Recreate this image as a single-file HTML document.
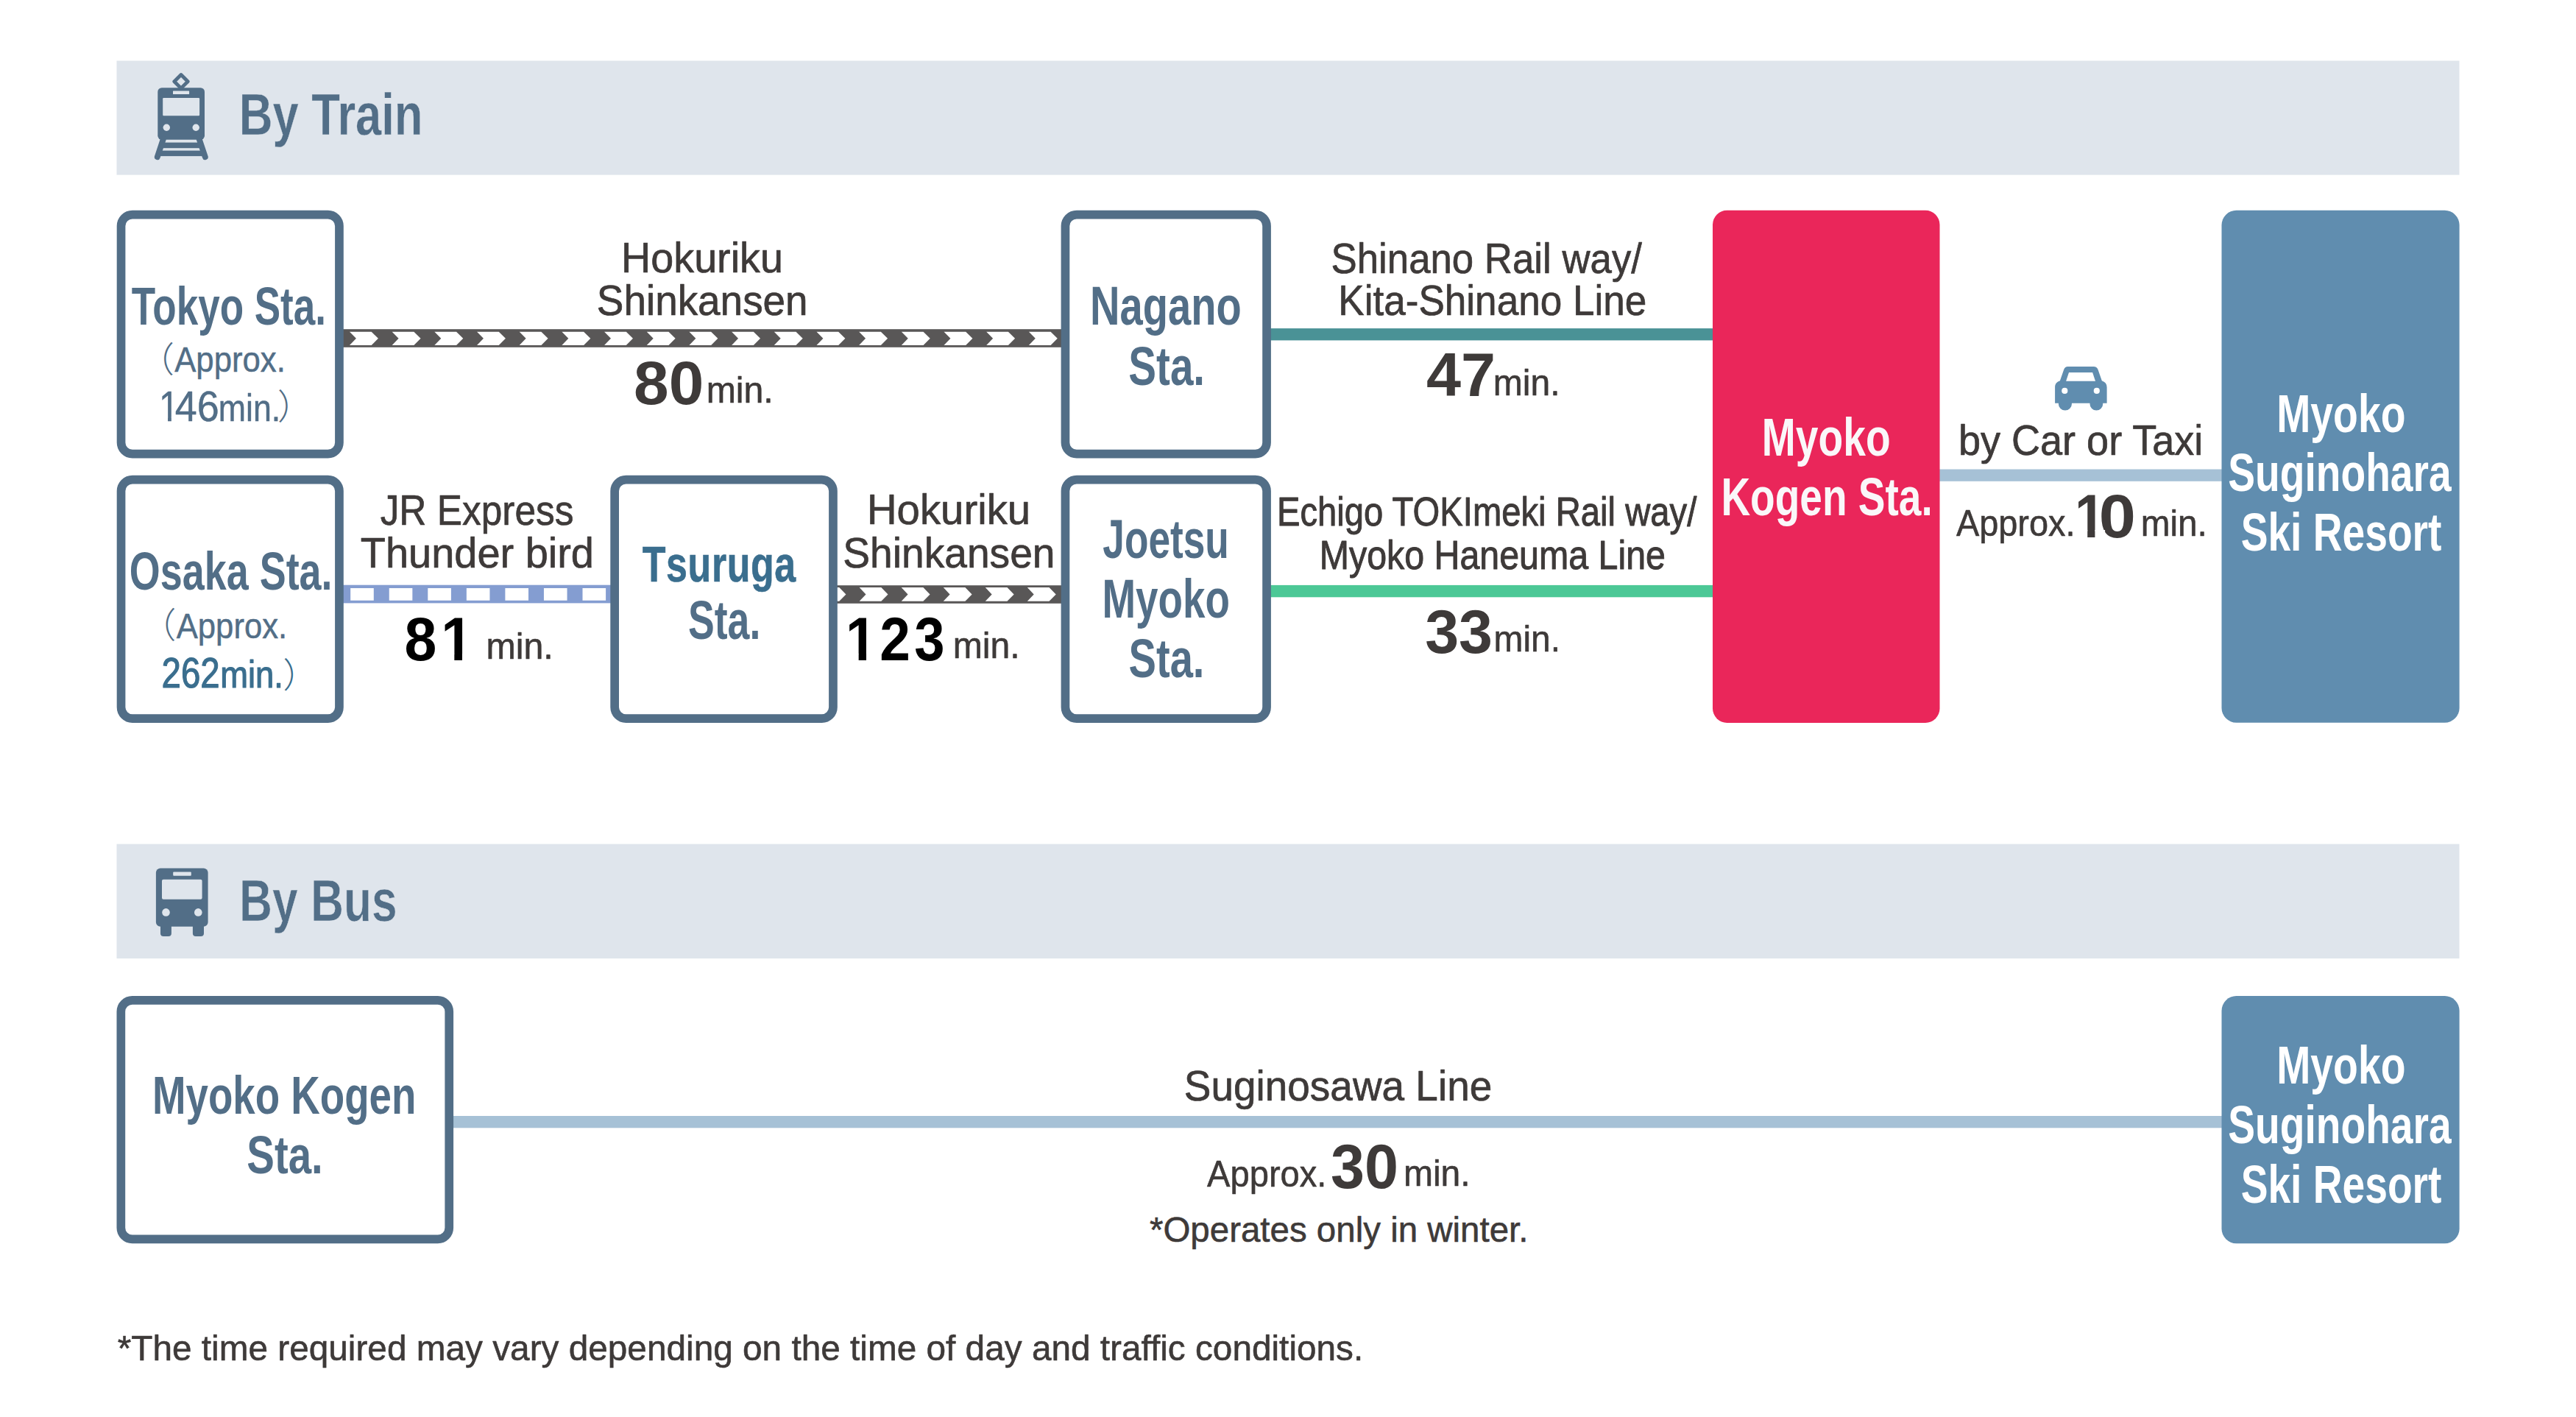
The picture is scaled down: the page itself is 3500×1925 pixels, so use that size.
<!DOCTYPE html>
<html lang="en"><head><meta charset="utf-8"><title>Access</title>
<style>
html,body{margin:0;padding:0;background:#fff}
svg{display:block}
text{font-family:"Liberation Sans","Noto Sans CJK JP",sans-serif;white-space:pre}
</style></head><body>
<svg width="3500" height="1925" viewBox="0 0 3500 1925">
<rect width="3500" height="1925" fill="#fff"/>
<rect x="158.5" y="82.5" width="3183" height="155.1" fill="#DFE5EC"/>
<rect x="158.5" y="1146.6" width="3183" height="155.5" fill="#DFE5EC"/>
<rect x="460" y="447.2" width="987" height="24.6" fill="#595757"/>
<path d="M475,450.7 h29.7 l9.2,9.1 l-9.2,9.1 h-29.7 l8.9,-9.1 zM532.68,450.7 h29.7 l9.2,9.1 l-9.2,9.1 h-29.7 l8.9,-9.1 zM590.36,450.7 h29.7 l9.2,9.1 l-9.2,9.1 h-29.7 l8.9,-9.1 zM648.04,450.7 h29.7 l9.2,9.1 l-9.2,9.1 h-29.7 l8.9,-9.1 zM705.72,450.7 h29.7 l9.2,9.1 l-9.2,9.1 h-29.7 l8.9,-9.1 zM763.4,450.7 h29.7 l9.2,9.1 l-9.2,9.1 h-29.7 l8.9,-9.1 zM821.08,450.7 h29.7 l9.2,9.1 l-9.2,9.1 h-29.7 l8.9,-9.1 zM878.76,450.7 h29.7 l9.2,9.1 l-9.2,9.1 h-29.7 l8.9,-9.1 zM936.44,450.7 h29.7 l9.2,9.1 l-9.2,9.1 h-29.7 l8.9,-9.1 zM994.12,450.7 h29.7 l9.2,9.1 l-9.2,9.1 h-29.7 l8.9,-9.1 zM1051.8,450.7 h29.7 l9.2,9.1 l-9.2,9.1 h-29.7 l8.9,-9.1 zM1109.48,450.7 h29.7 l9.2,9.1 l-9.2,9.1 h-29.7 l8.9,-9.1 zM1167.16,450.7 h29.7 l9.2,9.1 l-9.2,9.1 h-29.7 l8.9,-9.1 zM1224.84,450.7 h29.7 l9.2,9.1 l-9.2,9.1 h-29.7 l8.9,-9.1 zM1282.52,450.7 h29.7 l9.2,9.1 l-9.2,9.1 h-29.7 l8.9,-9.1 zM1340.2,450.7 h29.7 l9.2,9.1 l-9.2,9.1 h-29.7 l8.9,-9.1 zM1397.88,450.7 h29.7 l9.2,9.1 l-9.2,9.1 h-29.7 l8.9,-9.1 z" fill="#fff"/>
<rect x="1130" y="795.2" width="317" height="24.6" fill="#595757"/>
<path d="M1110.55,798.1 h29.7 l9.2,9.3 l-9.2,9.3 h-29.7 l8.9,-9.3 zM1167.6,798.1 h29.7 l9.2,9.3 l-9.2,9.3 h-29.7 l8.9,-9.3 zM1224.65,798.1 h29.7 l9.2,9.3 l-9.2,9.3 h-29.7 l8.9,-9.3 zM1281.7,798.1 h29.7 l9.2,9.3 l-9.2,9.3 h-29.7 l8.9,-9.3 zM1338.75,798.1 h29.7 l9.2,9.3 l-9.2,9.3 h-29.7 l8.9,-9.3 zM1395.8,798.1 h29.7 l9.2,9.3 l-9.2,9.3 h-29.7 l8.9,-9.3 z" fill="#fff"/>
<rect x="1720" y="446.1" width="615" height="16.3" fill="#4A9296"/>
<rect x="1720" y="794.9" width="615" height="16.4" fill="#4CC896"/>
<rect x="460" y="794.7" width="375" height="24.7" fill="#849DD1"/>
<path d="M476.2,798.9h31.6v16.8h-31.6zM528.75,798.9h31.6v16.8h-31.6zM581.3,798.9h31.6v16.8h-31.6zM633.85,798.9h31.6v16.8h-31.6zM686.4,798.9h31.6v16.8h-31.6zM738.95,798.9h31.6v16.8h-31.6zM791.5,798.9h31.6v16.8h-31.6z" fill="#fff"/>
<rect x="2630" y="637.5" width="395" height="16.3" fill="#A6C1D6"/>
<rect x="610" y="1516" width="2415" height="16.3" fill="#A6C1D6"/>
<rect x="164.55" y="291.65" width="296.4" height="324.9" rx="15.4" fill="#fff" stroke="#526E87" stroke-width="11.7"/>
<rect x="164.55" y="651.65" width="296.4" height="324.4" rx="15.4" fill="#fff" stroke="#526E87" stroke-width="11.7"/>
<rect x="835.15" y="651.65" width="296.8" height="324.4" rx="15.4" fill="#fff" stroke="#526E87" stroke-width="11.7"/>
<rect x="1447.45" y="291.65" width="273.6" height="324.9" rx="15.4" fill="#fff" stroke="#526E87" stroke-width="11.7"/>
<rect x="1447.45" y="651.65" width="273.6" height="324.4" rx="15.4" fill="#fff" stroke="#526E87" stroke-width="11.7"/>
<rect x="2327" y="285.8" width="308.5" height="696.1" rx="19.5" fill="#EA265A"/>
<rect x="3018.5" y="285.8" width="323.1" height="695.9" rx="20" fill="#608DAF"/>
<rect x="164.35" y="1358.95" width="445.9" height="324.4" rx="15.4" fill="#fff" stroke="#526E87" stroke-width="11.7"/>
<rect x="3018.5" y="1353.1" width="323.1" height="336.1" rx="20" fill="#608DAF"/>
<g fill="#526E87">
<rect x="214.3" y="119.2" width="63.7" height="70.6" rx="5.5"/>
<path d="M246,101.5 l9.2,9.2 l-9.2,9.2 l-9.2,-9.2z" fill="none" stroke="#526E87" stroke-width="4.8" stroke-linejoin="round"/>
<path d="M221.9,188.8 L213.8,213.3 M270.6,188.8 L278.8,213.3" stroke="#526E87" stroke-width="7.9" stroke-linecap="round"/>
<rect x="219" y="193.6" width="54" height="7.6"/>
<rect x="215" y="204.6" width="62" height="7.5"/>
</g>
<g fill="#DFE5EC">
<rect x="235" y="123.6" width="22.1" height="4.3" rx="0.5"/>
<rect x="221.2" y="133" width="49.9" height="24.2" rx="1.2"/>
<circle cx="226.3" cy="173.3" r="4.7"/><circle cx="266.2" cy="173.3" r="4.7"/>
</g>
<g fill="#526E87">
<rect x="211.9" y="1179.4" width="70.7" height="79.4" rx="6"/>
<path d="M218,1255 h14.9 v13.1 a3.8,3.8 0 0 1 -3.8,3.8 h-7.3 a3.8,3.8 0 0 1 -3.8,-3.8z M261.9,1255 h15.1 v13.1 a3.8,3.8 0 0 1 -3.8,3.8 h-7.5 a3.8,3.8 0 0 1 -3.8,-3.8z"/>
</g>
<g fill="#DFE5EC">
<rect x="235.2" y="1184.5" width="24.6" height="5.3" rx="1"/>
<rect x="220" y="1194.8" width="54.6" height="26.9" rx="2"/>
<circle cx="225.5" cy="1239.4" r="5.3"/><circle cx="269.3" cy="1239.4" r="5.3"/>
</g>
<path fill="#608DAF" d="M2809.5,497.9 H2844.5 Q2849,497.9 2850.5,502 L2855.8,517.2 Q2862.6,519.5 2862.6,526 V547.7 H2857.2 V549 A8.85,8.6 0 0 1 2839.5,549 V547.7 H2814.9 V549 A9,8.6 0 0 1 2796.9,549 V547.7 H2792.1 V526 Q2792.1,519.5 2798.9,517.2 L2804.2,502 Q2805.7,497.9 2809.5,497.9 Z"/>
<path fill="#fff" d="M2811,506 H2843.1 L2847,517.7 H2807.1Z"/>
<circle cx="2805.3" cy="530.9" r="4.1" fill="#fff"/><circle cx="2848.8" cy="530.9" r="4.1" fill="#fff"/>
<text x="324.73" y="183.4" font-size="79.5" font-weight="bold" fill="#526E87" stroke="#DFE5EC" stroke-width="0.4" textLength="249.83" lengthAdjust="spacingAndGlyphs">By Train</text>
<text x="325.1" y="1251.05" font-size="79" font-weight="bold" fill="#526E87" stroke="#DFE5EC" stroke-width="0.6" textLength="214.42" lengthAdjust="spacingAndGlyphs">By Bus</text>
<text x="178.84" y="440.8" font-size="73" font-weight="bold" fill="#526E87" textLength="264.15" lengthAdjust="spacingAndGlyphs">Tokyo Sta.</text>
<text x="175.84" y="801.3" font-size="73" font-weight="bold" fill="#526E87" textLength="275.76" lengthAdjust="spacingAndGlyphs">Osaka Sta.</text>
<text x="1481.01" y="441.2" font-size="73.2" font-weight="bold" fill="#526E87" textLength="205.87" lengthAdjust="spacingAndGlyphs">Nagano</text>
<text x="1533.3" y="522.7" font-size="73.2" font-weight="bold" fill="#526E87" textLength="103.8" lengthAdjust="spacingAndGlyphs">Sta.</text>
<text transform="translate(872.75,789.7) scale(0.76,1)" font-size="68.4" font-weight="bold" fill="#3A6E8E" stroke="#3A6E8E" stroke-width="0.6" letter-spacing="0.76" style="font-kerning:none">Tsuruga</text>
<text x="934.99" y="868" font-size="73.2" font-weight="bold" fill="#526E87" textLength="98.31" lengthAdjust="spacingAndGlyphs">Sta.</text>
<text x="1498.3" y="757.6" font-size="73.2" font-weight="bold" fill="#526E87" textLength="171.6" lengthAdjust="spacingAndGlyphs">Joetsu</text>
<text x="1497.5" y="838.8" font-size="73.2" font-weight="bold" fill="#526E87" textLength="173.46" lengthAdjust="spacingAndGlyphs">Myoko</text>
<text x="1533.52" y="919.6" font-size="73.2" font-weight="bold" fill="#526E87" textLength="102.96" lengthAdjust="spacingAndGlyphs">Sta.</text>
<text x="2393.87" y="619.2" font-size="73" font-weight="bold" fill="#FAF7F9" textLength="174.81" lengthAdjust="spacingAndGlyphs">Myoko</text>
<text x="2338.39" y="699.5" font-size="73" font-weight="bold" fill="#FAF7F9" textLength="287.34" lengthAdjust="spacingAndGlyphs">Kogen Sta.</text>
<text x="3093.27" y="586.5" font-size="73" font-weight="bold" fill="#FFFFFF" textLength="175.22" lengthAdjust="spacingAndGlyphs">Myoko</text>
<text x="3027.35" y="666.9" font-size="73" font-weight="bold" fill="#FFFFFF" textLength="303.28" lengthAdjust="spacingAndGlyphs">Suginohara</text>
<text x="3044.65" y="748.1" font-size="73" font-weight="bold" fill="#FFFFFF" textLength="272.82" lengthAdjust="spacingAndGlyphs">Ski Resort</text>
<text x="3093.27" y="1472.1" font-size="73" font-weight="bold" fill="#FFFFFF" textLength="175.22" lengthAdjust="spacingAndGlyphs">Myoko</text>
<text x="3027.35" y="1552.8" font-size="73" font-weight="bold" fill="#FFFFFF" textLength="303.28" lengthAdjust="spacingAndGlyphs">Suginohara</text>
<text x="3044.65" y="1633.8" font-size="73" font-weight="bold" fill="#FFFFFF" textLength="272.82" lengthAdjust="spacingAndGlyphs">Ski Resort</text>
<text x="207.01" y="1512.6" font-size="73" font-weight="bold" fill="#526E87" textLength="358.32" lengthAdjust="spacingAndGlyphs">Myoko Kogen</text>
<text x="335.31" y="1593.6" font-size="73" font-weight="bold" fill="#526E87" textLength="103.38" lengthAdjust="spacingAndGlyphs">Sta.</text>
<text><tspan x="188.98" y="505.26" font-size="47.8" fill="#526E87" font-weight="300">（</tspan><tspan x="237.19" y="505.3" font-size="48.5" font-weight="normal" fill="#526E87" stroke="#526E87" stroke-width="0.5" stroke-linejoin="round" textLength="150.7" lengthAdjust="spacingAndGlyphs">Approx.</tspan></text>
<text><tspan x="216" y="572" font-size="56.5" font-weight="normal" fill="#526E87" stroke="#526E87" stroke-width="0.5" textLength="27.16" lengthAdjust="spacingAndGlyphs">1</tspan><tspan x="237.79" y="572" font-size="56.5" font-weight="normal" fill="#526E87" stroke="#526E87" stroke-width="0.5" stroke-linejoin="round" textLength="59.93" lengthAdjust="spacingAndGlyphs">46</tspan><tspan x="296.78" y="572" font-size="52" font-weight="normal" fill="#526E87" stroke="#526E87" stroke-width="0.5" stroke-linejoin="round" textLength="84.51" lengthAdjust="spacingAndGlyphs">min.</tspan><tspan x="377.04" y="569.49" font-size="47.5" fill="#526E87" font-weight="300">）</tspan></text>
<path d="M217.72,566.53H228.03V574H217.72z M232.85,566.53H242.78V574H232.85z" fill="#fff"/>
<text><tspan x="191.48" y="865.76" font-size="47.8" fill="#526E87" font-weight="300">（</tspan><tspan x="239.69" y="866.5" font-size="48.5" font-weight="normal" fill="#526E87" stroke="#526E87" stroke-width="0.5" stroke-linejoin="round" textLength="150.5" lengthAdjust="spacingAndGlyphs">Approx.</tspan></text>
<text><tspan x="219.53" y="934.3" font-size="56.5" font-weight="normal" fill="#3A6E8E" stroke="#3A6E8E" stroke-width="1.2" stroke-linejoin="round" textLength="79.19" lengthAdjust="spacingAndGlyphs">262</tspan><tspan x="299.14" y="934.3" font-size="52" font-weight="normal" fill="#3A6E8E" stroke="#3A6E8E" stroke-width="1.2" stroke-linejoin="round" textLength="85.71" lengthAdjust="spacingAndGlyphs">min.</tspan><tspan x="384.47" y="933.93" font-size="47" fill="#3A6E8E" font-weight="300">）</tspan></text>
<text x="844.11" y="370.4" font-size="56.7" fill="#3E3A39" stroke="#3E3A39" stroke-width="0.7" stroke-linejoin="round" textLength="219.76" lengthAdjust="spacingAndGlyphs">Hokuriku</text>
<text x="810.83" y="428" font-size="56.7" fill="#3E3A39" stroke="#3E3A39" stroke-width="0.7" stroke-linejoin="round" textLength="286.8" lengthAdjust="spacingAndGlyphs">Shinkansen</text>
<text x="861.12" y="549.2" font-size="84" font-weight="bold" fill="#3E3A39" textLength="95.21" lengthAdjust="spacingAndGlyphs">80</text>
<text x="959.64" y="546.7" font-size="49.6" fill="#3E3A39" stroke="#3E3A39" stroke-width="0.6" stroke-linejoin="round" textLength="91.16" lengthAdjust="spacingAndGlyphs">min.</text>
<text x="1808.53" y="370.5" font-size="56.7" fill="#3E3A39" stroke="#3E3A39" stroke-width="0.7" stroke-linejoin="round" textLength="422.46" lengthAdjust="spacingAndGlyphs">Shinano Rail way/</text>
<text x="1818.22" y="427.8" font-size="56.7" fill="#3E3A39" stroke="#3E3A39" stroke-width="0.7" stroke-linejoin="round" textLength="419.16" lengthAdjust="spacingAndGlyphs">Kita-Shinano Line</text>
<text x="1938.03" y="538.2" font-size="83" font-weight="bold" fill="#3E3A39" textLength="94.06" lengthAdjust="spacingAndGlyphs">47</text>
<text x="2028.76" y="536.6" font-size="49.6" fill="#3E3A39" stroke="#3E3A39" stroke-width="0.6" stroke-linejoin="round" textLength="90.73" lengthAdjust="spacingAndGlyphs">min.</text>
<text x="2660.99" y="617.9" font-size="57" fill="#3E3A39" stroke="#3E3A39" stroke-width="0.7" stroke-linejoin="round" textLength="332.29" lengthAdjust="spacingAndGlyphs">by Car or Taxi</text>
<text x="2657.88" y="727.5" font-size="49.6" fill="#3E3A39" stroke="#3E3A39" stroke-width="0.6" stroke-linejoin="round" textLength="161.6" lengthAdjust="spacingAndGlyphs">Approx.</text>
<text><tspan x="2818.93" y="729.6" font-size="83.5" font-weight="bold" fill="#3E3A39" textLength="41.22" lengthAdjust="spacingAndGlyphs">1</tspan><tspan x="2851.7" y="729.8" font-size="83.5" font-weight="bold" fill="#3E3A39" textLength="50.11" lengthAdjust="spacingAndGlyphs">0</tspan></text>
<path d="M2821.6,720.08H2836.23V731.6H2821.6z M2846.4,720.08H2860.09V731.6H2846.4z" fill="#fff"/>
<text x="2908.68" y="727.5" font-size="49.6" fill="#3E3A39" stroke="#3E3A39" stroke-width="0.6" stroke-linejoin="round" textLength="90.07" lengthAdjust="spacingAndGlyphs">min.</text>
<text x="516.63" y="712.9" font-size="56.7" fill="#3E3A39" stroke="#3E3A39" stroke-width="0.7" stroke-linejoin="round" textLength="262.86" lengthAdjust="spacingAndGlyphs">JR Express</text>
<text x="489.74" y="771.3" font-size="56.7" fill="#3E3A39" stroke="#3E3A39" stroke-width="0.7" stroke-linejoin="round" textLength="317.26" lengthAdjust="spacingAndGlyphs">Thunder bird</text>
<text><tspan x="549.44" y="897.2" font-size="83.2" font-weight="bold" fill="#000000" textLength="43.82" lengthAdjust="spacingAndGlyphs">8</tspan><tspan x="599.18" y="897.4" font-size="83.2" font-weight="bold" fill="#000000" textLength="43.24" lengthAdjust="spacingAndGlyphs">1</tspan></text>
<path d="M602.08,887.91H617.33V899.4H602.08z M628,887.91H642.26V899.4H628z" fill="#fff"/>
<text x="660.54" y="894.6" font-size="49.6" fill="#3E3A39" stroke="#3E3A39" stroke-width="0.6" stroke-linejoin="round" textLength="91.27" lengthAdjust="spacingAndGlyphs">min.</text>
<text x="1177.95" y="712.3" font-size="56.7" fill="#3E3A39" stroke="#3E3A39" stroke-width="0.7" stroke-linejoin="round" textLength="222.26" lengthAdjust="spacingAndGlyphs">Hokuriku</text>
<text x="1145.32" y="771.3" font-size="56.7" fill="#3E3A39" stroke="#3E3A39" stroke-width="0.7" stroke-linejoin="round" textLength="288.23" lengthAdjust="spacingAndGlyphs">Shinkansen</text>
<text><tspan x="1149.04" y="897.4" font-size="83.2" font-weight="bold" fill="#000000" textLength="41.95" lengthAdjust="spacingAndGlyphs">1</tspan><tspan x="1195.28" y="897.4" font-size="83.2" font-weight="bold" fill="#000000" textLength="41.6" lengthAdjust="spacingAndGlyphs">2</tspan><tspan x="1242.33" y="897" font-size="83.2" font-weight="bold" fill="#000000" textLength="41.25" lengthAdjust="spacingAndGlyphs">3</tspan></text>
<path d="M1151.79,887.91H1166.65V899.4H1151.79z M1177,887.91H1190.9V899.4H1177z" fill="#fff"/>
<text x="1294.65" y="894.4" font-size="49.6" fill="#3E3A39" stroke="#3E3A39" stroke-width="0.6" stroke-linejoin="round" textLength="90.94" lengthAdjust="spacingAndGlyphs">min.</text>
<text x="1734.9" y="713.6" font-size="56.4" fill="#3E3A39" stroke="#3E3A39" stroke-width="1" stroke-linejoin="round" textLength="570.37" lengthAdjust="spacingAndGlyphs">Echigo TOKImeki Rail way/</text>
<text x="1792.71" y="772.6" font-size="56.4" fill="#3E3A39" stroke="#3E3A39" stroke-width="1" stroke-linejoin="round" textLength="470.26" lengthAdjust="spacingAndGlyphs">Myoko Haneuma Line</text>
<text x="1936.14" y="886.8" font-size="84.2" font-weight="bold" fill="#3E3A39" textLength="91.84" lengthAdjust="spacingAndGlyphs">33</text>
<text x="2029.57" y="884.7" font-size="49.6" fill="#3E3A39" stroke="#3E3A39" stroke-width="0.6" stroke-linejoin="round" textLength="90.51" lengthAdjust="spacingAndGlyphs">min.</text>
<text x="1608.83" y="1495.1" font-size="56.7" fill="#3E3A39" stroke="#3E3A39" stroke-width="0.7" stroke-linejoin="round" textLength="418.41" lengthAdjust="spacingAndGlyphs">Suginosawa Line</text>
<text x="1640.08" y="1611.6" font-size="49.8" fill="#3E3A39" stroke="#3E3A39" stroke-width="0.6" stroke-linejoin="round" textLength="162.32" lengthAdjust="spacingAndGlyphs">Approx.</text>
<text x="1807.94" y="1614.1" font-size="84.7" font-weight="bold" fill="#3E3A39" textLength="91.96" lengthAdjust="spacingAndGlyphs">30</text>
<text x="1906.96" y="1611.3" font-size="49.6" fill="#3E3A39" stroke="#3E3A39" stroke-width="0.6" stroke-linejoin="round" textLength="90.73" lengthAdjust="spacingAndGlyphs">min.</text>
<text x="1561.97" y="1686.7" font-size="48.5" fill="#3E3A39" stroke="#3E3A39" stroke-width="0.6" stroke-linejoin="round" textLength="514.47" lengthAdjust="spacingAndGlyphs">*Operates only in winter.</text>
<text x="159.66" y="1847.6" font-size="49" fill="#3E3A39" stroke="#3E3A39" stroke-width="0.6" stroke-linejoin="round" textLength="1692.61" lengthAdjust="spacingAndGlyphs">*The time required may vary depending on the time of day and traffic conditions.</text>
</svg>
</body></html>
